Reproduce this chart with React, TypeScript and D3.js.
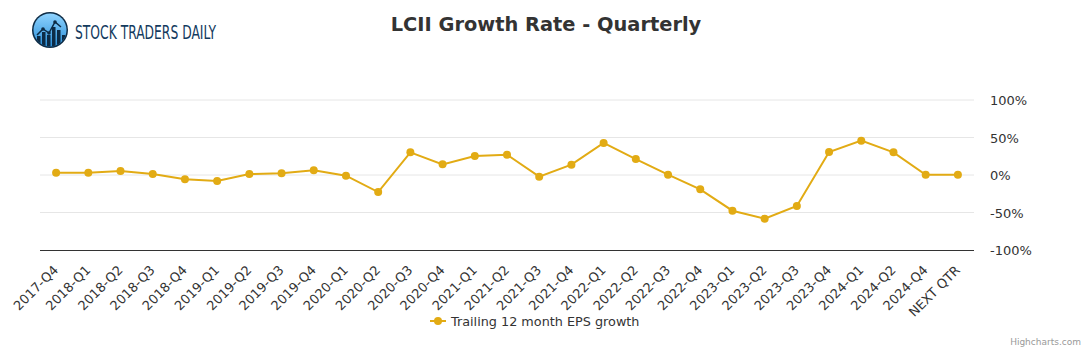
import React from "react";
import * as d3 from "d3";

const categories = [
  "2017-Q4", "2018-Q1", "2018-Q2", "2018-Q3", "2018-Q4",
  "2019-Q1", "2019-Q2", "2019-Q3", "2019-Q4",
  "2020-Q1", "2020-Q2", "2020-Q3", "2020-Q4",
  "2021-Q1", "2021-Q2", "2021-Q3", "2021-Q4",
  "2022-Q1", "2022-Q2", "2022-Q3", "2022-Q4",
  "2023-Q1", "2023-Q2", "2023-Q3", "2023-Q4",
  "2024-Q1", "2024-Q2", "2024-Q4", "NEXT QTR",
];

const epsGrowth = [
  3.1, 3.0, 5.3, 1.3, -5.8,
  -8.0, 1.3, 2.2, 6.2,
  -0.9, -22.7, 30.2, 14.2,
  25.3, 27.1, -2.2, 13.8,
  42.7, 21.3, 0.4, -19.1,
  -47.6, -58.2, -41.3, 30.7,
  45.8, 30.2, 0.2, 0.2,
];

const yTicks = [-100, -50, 0, 50, 100];

const seriesName = "Trailing 12 month EPS growth";
const title = "LCII Growth Rate - Quarterly";

const W = 1091;
const H = 350;
const left = 40;
const right = 974;
const top = 100;
const bottom = 250;
const color = "#e2ab14";
const font = "'DejaVu Sans', Verdana, sans-serif";

export default function App() {
  const x = d3.scaleBand<string>().domain(categories).range([left, right]);
  const y = d3.scaleLinear().domain([-100, 100]).range([bottom, top]);
  const cx = (c: string) => (x(c) as number) + x.bandwidth() / 2;
  const line = d3
    .line<number>()
    .x((_, i) => cx(categories[i]))
    .y((d) => y(d));

  return (
    <svg
      width={W}
      height={H}
      style={{ position: "absolute", left: 0, top: 0, fontFamily: font }}
    >
      <defs>
        <linearGradient id="logoGrad" x1="0" y1="0" x2="0" y2="1">
          <stop offset="0%" stopColor="#8fd3ff" />
          <stop offset="100%" stopColor="#2a8fd8" />
        </linearGradient>
        <clipPath id="logoClip">
          <circle cx={50} cy={30} r={16.5} />
        </clipPath>
      </defs>
      <rect x={0} y={0} width={W} height={H} fill="#ffffff" />

      {/* Logo */}
      <g>
        <circle cx={50} cy={30} r={18} fill="#0d2b45" />
        <circle cx={50} cy={30} r={16.5} fill="url(#logoGrad)" />
        <g clipPath="url(#logoClip)" fill="#0d2b45">
          <rect x={37} y={36} width={3.5} height={14} />
          <rect x={42} y={32} width={3.5} height={18} />
          <rect x={47} y={35} width={3.5} height={15} />
          <rect x={52} y={27} width={3.5} height={23} />
          <rect x={57} y={30} width={3.5} height={20} />
          <rect x={62} y={35} width={3.5} height={15} />
        </g>
        <polyline
          points="37,35 43,29 49,33 55,22 61,27"
          fill="none"
          stroke="#0d2b45"
          strokeWidth={1.5}
        />
        {[[43, 29], [49, 33], [55, 22]].map(([px, py], i) => (
          <circle key={i} cx={px} cy={py} r={1.8} fill="#0d2b45" />
        ))}
        <text
          x={75}
          y={39}
          fontFamily="'Liberation Sans Narrow', 'DejaVu Sans Condensed', sans-serif"
          fontSize={19}
          fill="#133a5e"
          textLength={141}
          lengthAdjust="spacingAndGlyphs"
        >
          STOCK TRADERS DAILY
        </text>
      </g>

      {/* Title */}
      <text
        x={546}
        y={31}
        textAnchor="middle"
        fontSize={19.4}
        fontWeight="bold"
        fill="#333333"
      >
        {title}
      </text>

      {/* Grid lines */}
      {yTicks
        .filter((t) => t !== -100)
        .map((t) => (
          <line
            key={t}
            x1={left}
            x2={right}
            y1={y(t)}
            y2={y(t)}
            stroke="#e6e6e6"
            strokeWidth={1}
          />
        ))}
      {/* X axis line */}
      <line x1={left} x2={right} y1={bottom + 0.5} y2={bottom + 0.5} stroke="#333333" strokeWidth={1} />

      {/* Y labels */}
      {yTicks.map((t) => (
        <text key={t} x={990} y={y(t) + 5} fontSize={13} fill="#333333">
          {t}%
        </text>
      ))}

      {/* X labels */}
      {categories.map((c) => (
        <text
          key={c}
          transform={`translate(${cx(c) + 3},${271}) rotate(-45)`}
          textAnchor="end"
          fontSize={13}
          fill="#333333"
        >
          {c}
        </text>
      ))}

      {/* Series */}
      <path d={line(epsGrowth) as string} fill="none" stroke={color} strokeWidth={2} />
      {epsGrowth.map((v, i) => (
        <circle key={i} cx={cx(categories[i])} cy={y(v)} r={4} fill={color} />
      ))}

      {/* Legend */}
      <line x1={430} x2={446} y1={321} y2={321} stroke={color} strokeWidth={2} />
      <circle cx={438} cy={321} r={4} fill={color} />
      <text x={451} y={325.5} fontSize={12.8} fill="#333333">
        {seriesName}
      </text>

      {/* Credit */}
      <text x={1081} y={345} textAnchor="end" fontSize={9} fill="#999999">
        Highcharts.com
      </text>
    </svg>
  );
}
